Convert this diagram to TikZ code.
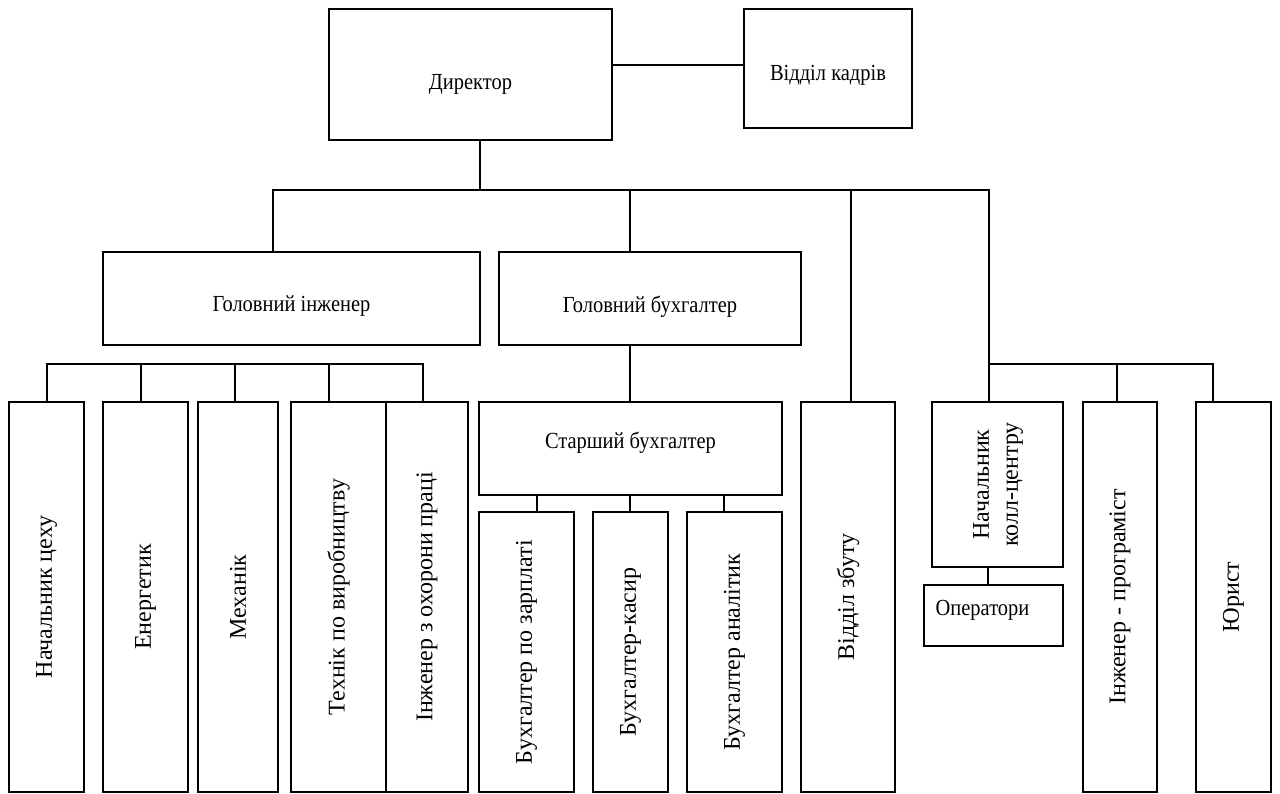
\documentclass[tikz,border=0pt]{standalone}
\usepackage{fontspec}
\setmainfont{Liberation Serif}
\newfontfamily\narrowserif[FakeStretch=0.89]{Liberation Serif}
\usetikzlibrary{positioning}
\newcommand{\textdown}[2]{\raisebox{-#1pt}[\height][\depth]{#2}}
\tikzset{
  unit/.style={draw, inner sep=0pt, outer sep=0pt},
  hbox/.style={unit, font=\narrowserif\fontsize{23}{28}\selectfont},
  vbox/.style={unit, font=\fontsize{24}{29}\selectfont},
}

\begin{document}
\begin{tikzpicture}[x=1pt, y=-1pt, line width=1.3pt]
  \useasboundingbox (0,0) rectangle (1280,794);
  % top level
  \node[hbox, minimum width=283pt, minimum height=131pt] (dir) at (470.5,74.5) {\textdown{10}{Директор}};
  \node[hbox, minimum width=168pt, minimum height=119pt] (kadry) [right=132pt of dir, yshift=6pt] {\textdown{7}{Відділ кадрів}};
  \node[hbox, minimum width=377pt, minimum height=93pt] (golinzh) at (291.5,298.5) {\textdown{8}{Головний інженер}};
  \node[hbox, minimum width=302pt, minimum height=93pt] (golbuh) [right=19pt of golinzh] {\textdown{8}{Головний бухгалтер}};
  \node[hbox, minimum width=303pt, minimum height=93pt] (starbuh) at (630.5,448.5) {\textdown{-6}{Старший бухгалтер}};

  % engineers
  \node[vbox, minimum width=75pt, minimum height=390pt] (cekh) at (46.5,597) {\rotatebox{90}{Начальник цеху}};
  \node[vbox, minimum width=85pt, minimum height=390pt] (energ) [right=19pt of cekh] {\rotatebox{90}{Енергетик}};
  \node[vbox, minimum width=80pt, minimum height=390pt] (mekh) [right=10pt of energ] {\rotatebox{90}{Механік}};
  \node[vbox, minimum width=95pt, minimum height=390pt] (tekhn) [right=13pt of mekh] {\rotatebox{90}{Технік по виробництву}};
  \node[vbox, minimum width=82pt, minimum height=390pt] (okhor) [right=0pt of tekhn] {\rotatebox{90}{Інженер з охорони праці}};

  % accountants
  \node[vbox, minimum width=95pt, minimum height=280pt] (zarpl) at (526.5,652) {\rotatebox{90}{Бухгалтер по зарплаті}};
  \node[vbox, minimum width=75pt, minimum height=280pt] (kasyr) [right=19pt of zarpl] {\rotatebox{90}{Бухгалтер-касир}};
  \node[vbox, minimum width=95pt, minimum height=280pt] (analit) [right=19pt of kasyr] {\rotatebox{90}{Бухгалтер аналітик}};

  \node[vbox, minimum width=94pt, minimum height=390pt] (zbut) at (848,597) {\rotatebox{90}{Відділ збуту}};

  % right group
  \node[vbox, minimum width=131pt, minimum height=165pt] (koll) at (997.5,484.5)
    {\rotatebox{90}{\begin{tabular}{@{}c@{}}Начальник\\колл-центру\end{tabular}}};
  \node[hbox, minimum width=139pt, minimum height=61pt] (oper) [below=18pt of koll, xshift=-4pt] {\textdown{-5}{Оператори}\hspace*{22pt}};
  \node[vbox, minimum width=74pt, minimum height=390pt] (prog) at (1120,597) {\rotatebox{90}{Інженер - програміст}};
  \node[vbox, minimum width=75pt, minimum height=390pt] (yur) [right=39pt of prog] {\rotatebox{90}{Юрист}};

  \coordinate (topbus) at (0,190);
  \coordinate (bus2) at (0,364);

  % connectors
  \draw ([yshift=9.5pt]dir.east) -- ([yshift=3.5pt]kadry.west);
  \draw ([xshift=9.5pt]dir.south) -- ([xshift=9.5pt]dir.south |- topbus);
  \draw ([xshift=-18.5pt]golinzh.north) |- ([xshift=-8.5pt]koll.north |- topbus) -- ([xshift=-8.5pt]koll.north);
  \draw ([xshift=-.5pt]starbuh.north |- topbus) -- ([xshift=-.5pt]starbuh.north |- golbuh.north);
  \draw ([xshift=-.5pt]starbuh.north |- golbuh.south) -- ([xshift=-.5pt]starbuh.north);
  \draw ([xshift=3pt]zbut.north |- topbus) -- ([xshift=3pt]zbut.north);

  \draw ([xshift=.5pt]cekh.north) |- ([xshift=-4pt]okhor.north |- bus2) -- ([xshift=-4pt]okhor.north);
  \foreach \n/\dx in {energ/-4.5, mekh/-3, tekhn/-9.5}
    \draw ([xshift=\dx pt]\n.north) -- ([xshift=\dx pt]\n.north |- bus2);

  \foreach \n/\dx in {zarpl/10.5, kasyr/-.5, analit/-10.5}
    \draw ([xshift=\dx pt]\n.north) -- ([xshift=\dx pt]\n.north |- starbuh.south);

  \draw ([xshift=-8.5pt]koll.north |- bus2) -| ([xshift=-20.5pt]yur.north);
  \draw ([xshift=-3pt]prog.north) -- ([xshift=-3pt]prog.north |- bus2);
  \draw ([xshift=-9.5pt]koll.south) -- ([xshift=-9.5pt]koll.south |- oper.north);
\end{tikzpicture}
\end{document}
